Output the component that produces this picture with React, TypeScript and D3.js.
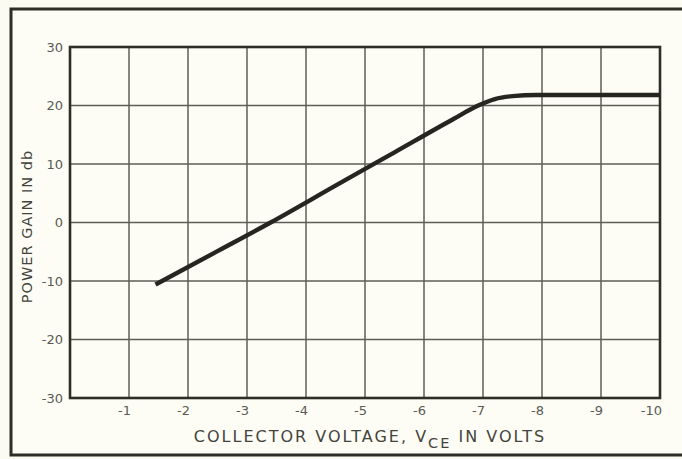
import React from "react";
import * as d3 from "d3";

// collector voltage (V) vs power gain (db)
const voltage = [-1.45, -2.5, -3.4, -4.5, -5.5, -6.5, -6.9, -7.2, -7.5, -7.9, -8.5, -9.2, -10];
const gainDb = [-10.6, -4.9, 0, 6.3, 12, 17.7, 19.9, 21.1, 21.6, 21.8, 21.8, 21.8, 21.8];
const xTicks = [-1, -2, -3, -4, -5, -6, -7, -8, -9, -10];
const yTicks = [30, 20, 10, 0, -10, -20, -30];

const W = 682;
const H = 459;

const App = () => {
  const svgRef = React.useRef<SVGSVGElement>(null);

  React.useEffect(() => {
    if (!svgRef.current) return;
    const svg = d3.select(svgRef.current);
    svg.selectAll("*").remove();

    const left = 70, right = 660, top = 47, bottom = 398;
    const x = d3.scaleLinear().domain([0, -10]).range([left, right]);
    const y = d3.scaleLinear().domain([-30, 30]).range([bottom, top]);
    const ink = "#2e2e26";
    const grey = "#5a5a52";
    const font = "'DejaVu Sans', Lato, sans-serif";

    svg.append("rect").attr("width", W).attr("height", H).attr("fill", "#fbfbf2");

    // outer frame of the scanned page
    svg.append("rect")
      .attr("x", 11).attr("y", 9)
      .attr("width", W + 20).attr("height", 446)
      .attr("fill", "#fdfdf6")
      .attr("stroke", ink)
      .attr("stroke-width", 3);

    // grid
    const g = svg.append("g");
    g.selectAll("line.vx")
      .data(d3.range(-1, -10, -1))
      .join("line")
      .attr("x1", d => x(d)).attr("x2", d => x(d))
      .attr("y1", top).attr("y2", bottom)
      .attr("stroke", "#5e5e56").attr("stroke-width", 1.5);
    g.selectAll("line.hy")
      .data(d3.range(-20, 30, 10))
      .join("line")
      .attr("x1", left).attr("x2", right)
      .attr("y1", d => y(d)).attr("y2", d => y(d))
      .attr("stroke", "#5e5e56").attr("stroke-width", 1.5);

    // plot border
    svg.append("rect")
      .attr("x", left).attr("y", top)
      .attr("width", right - left).attr("height", bottom - top)
      .attr("fill", "none")
      .attr("stroke", ink)
      .attr("stroke-width", 2.6);

    // curve
    const pts: [number, number][] = voltage.map((v, i) => [x(v), y(gainDb[i])]);
    const line = d3.line().curve(d3.curveMonotoneX);
    svg.append("path")
      .attr("d", line(pts))
      .attr("fill", "none")
      .attr("stroke", "#262620")
      .attr("stroke-width", 4.4)
      .attr("stroke-linecap", "butt");

    // y tick labels
    svg.append("g")
      .selectAll("text")
      .data(yTicks)
      .join("text")
      .attr("x", 63)
      .attr("y", d => y(d))
      .attr("dy", "0.35em")
      .attr("text-anchor", "end")
      .attr("fill", grey)
      .style("font", `13px ${font}`)
      .text(d => (d < 0 ? "-" + Math.abs(d) : String(d)));

    // x tick labels
    svg.append("g")
      .selectAll("text")
      .data(xTicks)
      .join("text")
      .attr("x", d => x(d) + 2)
      .attr("y", 415)
      .attr("text-anchor", "end")
      .attr("fill", grey)
      .style("font", `13px ${font}`)
      .text(d => "-" + Math.abs(d));

    // x axis title
    const xt = svg.append("text")
      .attr("x", 370)
      .attr("y", 442)
      .attr("text-anchor", "middle")
      .attr("fill", "#44443c")
      .style("font", `16px ${font}`)
      .style("letter-spacing", "2px");
    xt.append("tspan").text("COLLECTOR VOLTAGE, V");
    xt.append("tspan").attr("dy", 6).style("font-size", "14.5px").text("CE");
    xt.append("tspan").attr("dy", -6).text(" IN VOLTS");

    // y axis title
    svg.append("text")
      .attr("transform", `translate(32, ${y(0) + 4}) rotate(-90)`)
      .attr("text-anchor", "middle")
      .attr("fill", "#44443c")
      .style("font", `14.5px ${font}`)
      .style("letter-spacing", "1px")
      .text("POWER GAIN IN db");
  }, []);

  return (
    <svg
      ref={svgRef}
      width={W}
      height={H}
      style={{ position: "absolute", left: 0, top: 0, display: "block" }}
    />
  );
};

export default App;
